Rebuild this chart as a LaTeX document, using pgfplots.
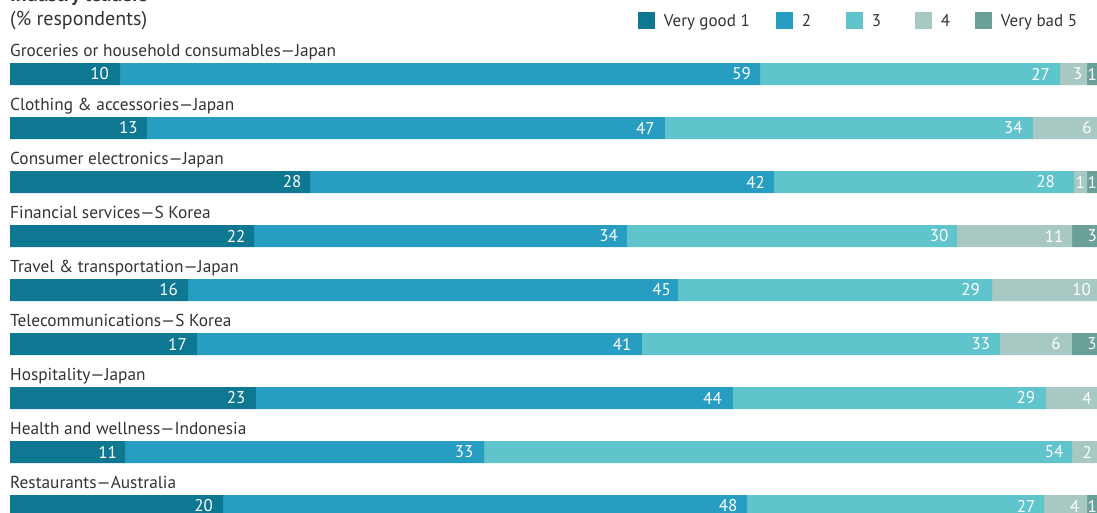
\documentclass[border=0pt]{standalone}
\usepackage{pgfplots}
\pgfplotsset{compat=1.18}
\usepackage{fontspec}
\setmainfont{PT Sans}
\definecolor{cA}{HTML}{0E7791}
\definecolor{cB}{HTML}{279DC1}
\definecolor{cC}{HTML}{60C4CC}
\definecolor{cD}{HTML}{A8C8C3}
\definecolor{cE}{HTML}{6AA097}
\definecolor{txt}{HTML}{333333}
% columns: y = category row, w = segment width as drawn (%), m = printed value / width / label gap (px)
\pgfplotstableread{
y w m
0 10.12 10/10.12/11
-1 12.60 13/12.60/9
-2 27.60 28/27.60/8.5
-3 22.45 22/22.45/8.5
-4 16.38 16/16.38/10
-5 17.20 17/17.20/10
-6 22.63 23/22.63/10.5
-7 10.58 11/10.58/8
-8 19.60 20/19.60/10
}\serA
\pgfplotstableread{
y w m
0 58.88 59/58.88/9
-1 47.65 47/47.65/10
-2 42.69 42/42.69/9
-3 34.31 34/34.31/9
-4 45.08 45/45.08/7
-5 40.94 41/40.94/10.5
-6 43.88 44/43.88/11
-7 33.03 33/33.03/10.5
-8 48.21 48/48.21/9.5
}\serB
\pgfplotstableread{
y w m
0 27.60 27/27.60/10
-1 33.85 34/33.85/10
-2 27.60 28/27.60/19
-3 30.36 30/30.36/8.5
-4 28.89 29/28.89/12
-5 32.93 33/32.93/9.5
-6 28.79 29/28.79/10.5
-7 54.09 54/54.09/8.5
-8 27.32 27/27.32/8.5
}\serC
\pgfplotstableread{
y w m
0 2.48 3/2.48/4.5
-1 5.89 6/5.89/5
-2 1.20 1/1.20/2
-3 10.58 11/10.58/8.5
-4 9.66 10/9.66/6
-5 6.62 6/6.62/11
-6 4.69 4/4.69/5
-7 2.30 2/2.30/5
-8 3.96 4/3.96/7.5
}\serD
\pgfplotstableread{
y w m
0 0.92 1/0.92/0
-1 0 /0/0
-2 0.92 1/0.92/0
-3 2.30 3/2.30/0
-4 0 /0/0
-5 2.30 3/2.30/0
-6 0 /0/0
-7 0 /0/0
-8 0.92 1/0.92/0
}\serE
\def\mlab#1/#2/#3\relax{#1}
\def\mw#1/#2/#3\relax{#2}
\def\mpad#1/#2/#3\relax{#3}
\begin{document}
\begin{tikzpicture}
\useasboundingbox (0,0) rectangle (1097pt,-512pt);
\clip (0,0) rectangle (1097pt,-512pt);
\node[anchor=base west, inner sep=0pt, font=\fontsize{20}{24}\selectfont\bfseries, text=txt] at (10pt,-1.5pt) {Industry leaders};
\node[anchor=base west, inner sep=0pt, font=\fontsize{20}{24}\selectfont, text=txt] at (10pt,-25pt) {(\% respondents)};
\begin{axis}[
  at={(10pt,-512pt)}, anchor=south west,
  scale only axis, width=1087pt, height=512pt,
  xmin=0, xmax=100, ymin=-8.1111, ymax=1.3704,
  axis lines=none, clip=false,
  xbar stacked, bar width=22pt,
  point meta=explicit symbolic,
  nodes near coords={\expandafter\mlab\pgfplotspointmeta\relax},
  every node near coord/.append style={
    /utils/exec={\edef\segw{\expandafter\mw\pgfplotspointmeta\relax}\edef\lpad{\expandafter\mpad\pgfplotspointmeta\relax}},
    anchor=east, xshift={\segw*5.435pt-\lpad*1pt}, inner sep=0pt, text=white, font=\fontsize{17}{20}\selectfont},
  legend columns=5,
  legend style={draw=none, fill=none, inner xsep=0pt, inner ysep=0pt, outer sep=0pt,
    at={(axis description cs:0.5777,0.9766)}, anchor=north west,
    font=\fontsize{17}{20}\selectfont, text=txt,
    nodes={inner sep=0pt, text depth=0pt},
    /tikz/every even column/.append style={column sep=0pt}},
  seg/.style={
    fill=#1, draw=none,
    legend image code/.code={\fill[#1, draw=none] (0pt,-8.5pt) rectangle (17pt,8.5pt);},
  },
]
\addplot[seg=cA] table[x=w, y=y, meta=m] {\serA};
\addlegendentry{\hspace*{9pt}\makebox[112pt][l]{Very good 1}}
\addplot[seg=cB] table[x=w, y=y, meta=m] {\serB};
\addlegendentry{\hspace*{9pt}\makebox[44pt][l]{2}}
\addplot[seg=cC] table[x=w, y=y, meta=m] {\serC};
\addlegendentry{\hspace*{9pt}\makebox[43pt][l]{3}}
\addplot[seg=cD] table[x=w, y=y, meta=m] {\serD};
\addlegendentry{\hspace*{9pt}\makebox[34pt][l]{4}}
\addplot[seg=cE] table[x=w, y=y, meta=m] {\serE};
\addlegendentry{\hspace*{9pt}Very bad 5}
\tikzset{catlab/.style={anchor=base west, inner sep=0pt, font=\fontsize{17.3}{20}\selectfont, text=txt}}
\node[catlab] at (axis cs:0,0.324) {Groceries or household consumables—Japan};
\node[catlab] at (axis cs:0,-0.676) {Clothing \& accessories—Japan};
\node[catlab] at (axis cs:0,-1.676) {Consumer electronics—Japan};
\node[catlab] at (axis cs:0,-2.676) {Financial services—S Korea};
\node[catlab] at (axis cs:0,-3.676) {Travel \& transportation—Japan};
\node[catlab] at (axis cs:0,-4.676) {Telecommunications—S Korea};
\node[catlab] at (axis cs:0,-5.676) {Hospitality—Japan};
\node[catlab] at (axis cs:0,-6.676) {Health and wellness—Indonesia};
\node[catlab] at (axis cs:0,-7.676) {Restaurants—Australia};
\end{axis}
\end{tikzpicture}
\end{document}
